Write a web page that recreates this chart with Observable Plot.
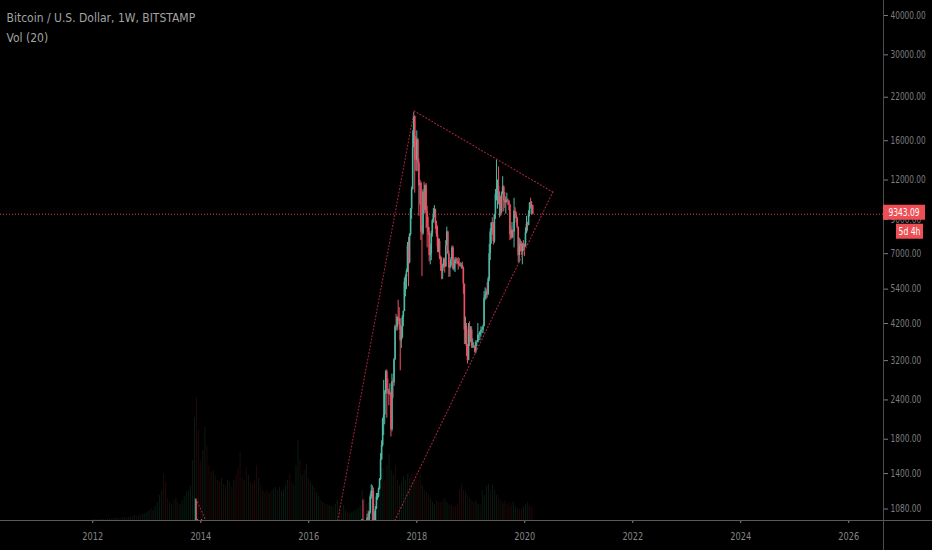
<!DOCTYPE html>
<html><head><meta charset="utf-8">
<script src="https://cdn.jsdelivr.net/npm/d3@7"></script>
<script src="https://cdn.jsdelivr.net/npm/@observablehq/plot@0.6"></script>
<style>
html,body{margin:0;padding:0;background:#000;}
#chart{position:relative;width:932px;height:550px;background:#000;overflow:hidden;}
#chart svg{position:absolute;left:0;top:0;}
</style></head><body><div id="chart"></div>
<script>
// ---------- text ----------
const title = "Bitcoin / U.S. Dollar, 1W, BITSTAMP";
const subtitle = "Vol (20)";
const lastPrice = 9343.09;
const countdown = "5d 4h";

// ---------- axes ----------
const yTicks = [1080, 1400, 1800, 2400, 3200, 4200, 5400, 7000, 9000, 12000, 16000, 22000, 30000, 40000];
const xTickYears = [2012, 2014, 2016, 2018, 2020, 2022, 2024, 2026];
const xDomain = ["2010-04-17", "2026-08-24"];
const yDomain = [993, 44656];

// ---------- weekly candles, segment A (late 2013) ----------
const segAStart = "2013-11-18";
const segAOpen = 420;
const segAClose = [790, 960, 800, 880, 650, 750, 900, 870, 840, 800];
const segAHigh  = [800, 1163, 1150, 1000, 880, 770, 960, 1000, 950, 870];
const segALow   = [400, 790, 700, 800, 455, 640, 730, 790, 800, 780];

// ---------- weekly candles, segment B (Dec 2016 - Feb 2020) ----------
const segBStart = "2016-12-19";
const segBOpen = 790;
const segBClose = [
  892, 997,
  905, 820, 920, 915, 1012, 995, 1050, 1180, 1230, 1230, 960, 965, 1080, 1180, 1180, 1250, 1340,
  1550, 1720, 2080, 2150, 2520, 2950, 2600, 2570, 2500, 2510, 1930, 2740, 2720, 3220,
  4100, 4080, 4380, 4350, 4150, 3700, 3780, 4380, 4590, 5690, 5900, 6150, 7400,
  6560, 8050, 9700, 11200, 15200, 19100, 13900, 13850,
  16100, 13600, 11500, 11700, 8200, 8100, 11000, 9600, 11500, 9500, 8500, 8200, 6900,
  7000, 8100, 8900, 9250, 9650, 8700, 8050, 7350, 7650, 6780, 6450, 6150, 6360,
  6700, 6350, 7400, 8200, 7000, 6300, 6400, 6700, 7300, 6250, 6500, 6700, 6600,
  6600, 6450, 6400, 6420, 6420, 6300, 5600, 4000, 4100, 3550, 3200, 4000, 3850, 4000,
  3550, 3550, 3550, 3400, 3650, 3650, 3850, 3850, 3950, 4000, 4000, 4100,
  5050, 5150, 5300, 5200, 5800, 7000, 8200, 8750, 8700, 7650, 9300, 10800, 10800,
  11450, 10200, 10550, 9500, 10800, 11400, 10300, 10150, 10350,
  10350, 10300, 10000, 8050, 7850, 8300, 8200, 9550, 9300,
  9050, 8500, 6900, 7400, 7500, 7100, 7500, 7400, 7350,
  8150, 8700, 8600, 9350, 10150, 9900, 9950, 9343.09
];
const segBHigh = [
  935, 1000,
  1153, 910, 930, 925, 1040, 1065, 1060, 1200, 1290, 1280, 1260, 1060, 1100, 1210, 1210, 1260, 1350,
  1620, 1780, 2100, 2770, 2570, 2980, 2990, 2800, 2590, 2700, 2540, 2900, 2800, 3250,
  4150, 4490, 4420, 4980, 4720, 4350, 4100, 4450, 4600, 5850, 6000, 6250, 7600,
  7880, 8100, 9750, 11400, 17200, 19666, 19200, 16500,
  17200, 16300, 14000, 12000, 11850, 8600, 11200, 11800, 11600, 11700, 9900, 9150, 8480,
  7500, 8250, 9000, 9750, 9950, 9700, 8880, 8550, 7800, 7790, 6880, 6820, 6480,
  6780, 6780, 7700, 8500, 8250, 7150, 6600, 6800, 7400, 7400, 6600, 6800, 6800,
  6750, 6800, 6750, 6550, 6520, 6580, 6350, 5600, 4400, 4200, 3600, 4200, 4250, 4100,
  4100, 3750, 3650, 3570, 3700, 3700, 4200, 3900, 3950, 4100, 4080, 4150,
  5300, 5450, 5400, 5650, 5900, 7500, 8400, 8800, 9100, 8800, 9350, 11200, 13880,
  12000, 13200, 11000, 10650, 11000, 12300, 11500, 10950, 10600,
  10900, 10450, 10300, 10050, 8500, 8800, 8350, 10500, 9800,
  9500, 9150, 8500, 7850, 7750, 7650, 7550, 7700, 7500,
  8450, 9200, 8800, 9580, 10180, 10500, 10250, 9990
];
const segBLow = [
  788, 884,
  850, 750, 815, 880, 910, 925, 975, 1040, 1160, 975, 960, 890, 930, 1075, 1150, 1170, 1240,
  1330, 1540, 1700, 1850, 2000, 2500, 2100, 2500, 2300, 2480, 1830, 1900, 2420, 2650,
  3200, 3970, 3980, 4250, 4000, 2970, 3500, 3750, 4100, 4580, 5100, 5380, 6100,
  5500, 6500, 7950, 9000, 11150, 15200, 10900, 12800,
  12750, 12800, 9200, 10000, 7700, 5920, 8000, 9300, 9400, 8400, 7300, 8000, 6600,
  6450, 6650, 7900, 8750, 9100, 8350, 7900, 7050, 7050, 6700, 6150, 5780, 5800,
  6300, 6070, 6350, 7400, 6950, 5880, 5900, 6300, 6700, 6200, 6150, 6100, 6450,
  6500, 6200, 6350, 6350, 6250, 6250, 5200, 3600, 3600, 3300, 3122, 3200, 3550, 3650,
  3500, 3500, 3500, 3380, 3360, 3550, 3650, 3700, 3700, 3800, 3900, 3900,
  4100, 4950, 5000, 5050, 5150, 5700, 6650, 7500, 8000, 7450, 7550, 9000, 10300,
  9700, 10000, 9100, 9200, 9350, 10800, 9500, 9750, 9350,
  10150, 9950, 9600, 7700, 7750, 7800, 7850, 7300, 9050,
  8750, 8400, 6550, 6550, 7100, 6900, 6450, 7100, 6850,
  7350, 8100, 8250, 8580, 9150, 9700, 9300, 9300
];

// ---------- volume, two-week buckets from 2012-01-02 (thousand BTC, estimated) ----------
const volStart = "2012-01-02";
const volume = [
  1,1,1,1,1,1,1,1,2,2,2,2,2,2,3,3,3,3,4,4,5,4,5,6,6,7,
  8,10,12,10,14,18,25,30,46,38,22,18,16,20,22,18,16,20,24,28,30,34,60,103,123,90,
  60,70,93,75,55,48,50,45,40,38,42,36,35,40,38,33,40,45,52,69,42,40,53,45,38,36,
  40,55,42,35,30,28,30,27,29,31,33,30,33,29,31,35,40,46,38,35,55,80,60,45,50,56,
  42,38,35,32,28,24,20,18,16,16,15,14,13,16,20,14,11,15,10,8,7,8,9,10,12,15,
  30,22,16,18,26,20,16,18,35,45,52,40,55,66,50,45,55,40,35,38,44,40,46,42,46,40,
  44,40,46,35,30,28,25,22,18,16,20,18,18,20,22,18,16,15,13,14,16,30,36,30,28,25,
  22,20,18,20,16,15,30,25,34,36,30,35,30,25,22,20,17,20,16,18,15,18,14,12,11,12,
  14,16,18,15,13
];
const volumeDir = [
  "ggrgrggrgrgggrggrggrgrgrgg",
  "ggrgggggrrrggrgrggggggggrr",
  "rggrrrgrrrgrrgrrgrrrrgrgrr",
  "rrgrgrrgrggrgggggrrgggrgrg",
  "rggrggrgrrggrggrrggrgggggg",
  "grrggrgggggrrgggrrggggggrg",
  "rrrgrrrgggrrrrggrgrrrrrrgr",
  "grrggrggggrgggrrgrrrrggrrr",
  "gggrr"
];
const volumeMax = 520;

// ---------- drawn trend lines (anchor points) ----------
const trendLeft  = [{date: "2016-07-15", price: 993}, {date: "2017-12-14", price: 19900}];
const trendUpper = [{date: "2017-12-14", price: 19900}, {date: "2020-07-09", price: 10990}];
const trendLower = [{date: "2017-08-05", price: 993}, {date: "2020-07-09", price: 10990}];
const trend2013  = [{date: "2013-11-30", price: 1163}, {date: "2014-02-04", price: 993}];

// ---------- build tables ----------
const parse = d3.utcParse("%Y-%m-%d");
function buildCandles(start, open0, closes, highs, lows) {
  const s = parse(start);
  return closes.map((c, i) => {
    const o = i === 0 ? open0 : closes[i - 1];
    return {date: d3.utcWeek.offset(s, i), open: o, close: c, high: highs[i], low: lows[i], up: c >= o};
  });
}
const candles = buildCandles(segAStart, segAOpen, segAClose, segAHigh, segALow)
  .concat(buildCandles(segBStart, segBOpen, segBClose, segBHigh, segBLow));

const dirs = volumeDir.join("");
const vStart = parse(volStart);
const vols = volume.map((v, i) => ({
  x1: d3.utcDay.offset(vStart, 14 * i),
  x2: d3.utcDay.offset(vStart, 14 * i + 14),
  v, up: (dirs[i] || "g") === "g"
}));
const volUp = vols.filter(d => d.up), volDown = vols.filter(d => !d.up);
const toPts = arr => arr.map(d => ({date: parse(d.date), price: d.price}));

const W = 932, H = 550, MR = 49, MB = 30;
const FONT = "'Liberation Sans Narrow', 'DejaVu Sans Condensed', 'DejaVu Sans', sans-serif";
const xDom = xDomain.map(parse);
const UP = "#4fb8a3", DOWN = "#eb5063", TREND = "#a8243a";

const container = document.getElementById("chart");

// volume layer (constant fills, so no color scale is involved)
const volPlot = Plot.plot({
  width: W, height: H, marginLeft: 0, marginRight: MR, marginTop: 0, marginBottom: MB,
  x: {type: "utc", domain: xDom, axis: null},
  y: {domain: [0, volumeMax], axis: null},
  style: {background: "transparent"},
  marks: [
    Plot.rectY(volUp, {x1: "x1", x2: "x2", y: "v", insetLeft: 0.3, insetRight: 0.9, fill: "#1f6b45", fillOpacity: 0.3}),
    Plot.rectY(volDown, {x1: "x1", x2: "x2", y: "v", insetLeft: 0.3, insetRight: 0.9, fill: "#7a2020", fillOpacity: 0.3})
  ]
});
container.appendChild(volPlot);

// price layer
const candlesUp = candles.filter(d => d.up), candlesDown = candles.filter(d => !d.up);
const trendStyle = {x: "date", y: "price", stroke: TREND, strokeWidth: 1.1, strokeDasharray: "1,2.4", clip: true};
const main = Plot.plot({
  width: W, height: H, marginLeft: 0, marginRight: MR, marginTop: 0, marginBottom: MB,
  x: {type: "utc", domain: xDom},
  y: {type: "log", domain: yDomain},
  style: {background: "transparent", color: "#8a8a8a", fontFamily: FONT, fontSize: "11px", overflow: "visible"},
  marks: [
    Plot.ruleX(candlesUp, {x: "date", y1: "low", y2: "high", stroke: UP, strokeWidth: 1, clip: true}),
    Plot.ruleX(candlesDown, {x: "date", y1: "low", y2: "high", stroke: DOWN, strokeWidth: 1, clip: true}),
    Plot.ruleX(candlesUp, {x: "date", y1: "open", y2: "close", stroke: UP, strokeWidth: 1.6, clip: true}),
    Plot.ruleX(candlesDown, {x: "date", y1: "open", y2: "close", stroke: DOWN, strokeWidth: 1.6, clip: true}),
    Plot.line(toPts(trendLeft), trendStyle),
    Plot.line(toPts(trendUpper), trendStyle),
    Plot.line(toPts(trendLower), trendStyle),
    Plot.line(toPts(trend2013), trendStyle),
    Plot.ruleY([lastPrice], {stroke: "#ef5350", strokeWidth: 1, strokeDasharray: "1,2", strokeOpacity: 0.9}),
    Plot.axisY(yTicks, {anchor: "right", tickSize: 4, tickPadding: 3, tickFormat: d3.format(".2f"),
      fontSize: 10, color: "#7d7d7d"}),
    Plot.axisX(xTickYears.map(y => new Date(Date.UTC(y, 0, 1))), {anchor: "bottom", tickSize: 3, tickPadding: 9,
      tickFormat: d3.utcFormat("%Y"), fontSize: 11, color: "#858585"}),
    Plot.text([title], {frameAnchor: "top-left", dx: 6, dy: 18, lineAnchor: "middle", textAnchor: "start",
      fill: "#a3a3a3", fontSize: 12, ariaLabel: "title"}),
    Plot.text([subtitle], {frameAnchor: "top-left", dx: 6, dy: 38, lineAnchor: "middle", textAnchor: "start",
      fill: "#a3a3a3", fontSize: 12, ariaLabel: "subtitle"})
  ]
});
container.appendChild(main);

// condense texts to the narrow widths of the reference face
const svg = d3.select(main);
function squeeze(sel, perChar) {
  sel.each(function() {
    const n = this.textContent.length;
    d3.select(this).attr("textLength", n * perChar).attr("lengthAdjust", "spacingAndGlyphs");
  });
}
squeeze(svg.selectAll('g[aria-label="y-axis tick label"] text'), 4.4);
squeeze(svg.selectAll('g[aria-label="x-axis tick label"] text'), 5.2);
squeeze(svg.selectAll('g[aria-label="title"] text'), 4.4);
squeeze(svg.selectAll('g[aria-label="subtitle"] text'), 4.1);

// pane separators and last-price labels, positioned with the plot's own y scale
const xEdge = W - MR, yEdge = H - MB;
svg.append("line").attr("x1", xEdge + 0.5).attr("x2", xEdge + 0.5).attr("y1", 0).attr("y2", H)
  .attr("stroke", "#4d4d4d");
svg.append("line").attr("x1", 0).attr("x2", W).attr("y1", yEdge + 0.5).attr("y2", yEdge + 0.5)
  .attr("stroke", "#5a5a5a");
const yPx = main.scale("y").apply(lastPrice);
const g = svg.append("g").attr("font-family", FONT);
g.append("rect").attr("x", xEdge).attr("y", yPx - 9).attr("width", 42).attr("height", 15).attr("fill", "#ee4f55");
g.append("text").attr("x", xEdge + 21).attr("y", yPx - 1.5).attr("dy", "0.35em").attr("text-anchor", "middle")
  .attr("fill", "#fff").attr("font-size", 11).attr("textLength", 31).attr("lengthAdjust", "spacingAndGlyphs")
  .text(d3.format(".2f")(lastPrice));
g.append("rect").attr("x", xEdge + 13).attr("y", yPx + 10).attr("width", 27).attr("height", 15).attr("fill", "#ee4f55");
g.append("text").attr("x", xEdge + 26.5).attr("y", yPx + 17.5).attr("dy", "0.35em").attr("text-anchor", "middle")
  .attr("fill", "#fff").attr("font-size", 11).attr("textLength", 22).attr("lengthAdjust", "spacingAndGlyphs")
  .text(countdown);
</script></body></html>
